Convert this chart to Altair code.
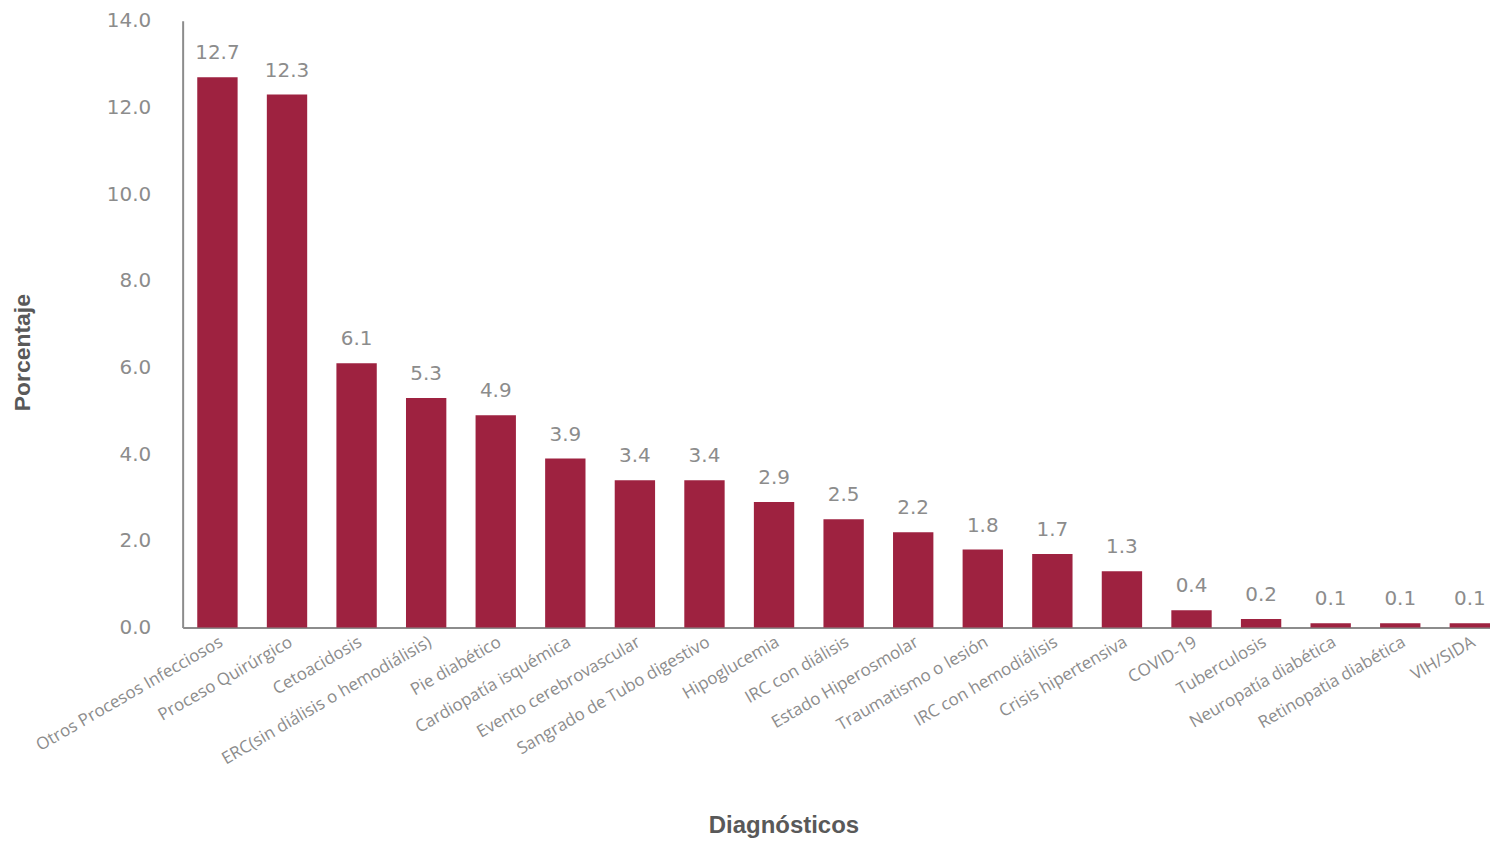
import altair as alt
import pandas as pd

categories = [
    "Otros Procesos Infecciosos", "Proceso Quirúrgico", "Cetoacidosis",
    "ERC(sin diálisis o hemodiálisis)", "Pie diabético", "Cardiopatía isquémica",
    "Evento cerebrovascular", "Sangrado de Tubo digestivo", "Hipoglucemia",
    "IRC con diálisis", "Estado Hiperosmolar", "Traumatismo o lesión",
    "IRC con hemodiálisis", "Crisis hipertensiva", "COVID-19", "Tuberculosis",
    "Neuropatía diabética", "Retinopatia diabética", "VIH/SIDA",
]
values = [12.7, 12.3, 6.1, 5.3, 4.9, 3.9, 3.4, 3.4, 2.9, 2.5, 2.2, 1.8, 1.7, 1.3,
          0.4, 0.2, 0.1, 0.1, 0.1]
y_ticks = [0, 2, 4, 6, 8, 10, 12, 14]

df = pd.DataFrame({"Diagnóstico": categories, "Porcentaje": values})

xscale = alt.Scale(paddingInner=0.42, paddingOuter=0.105, align=1)

x = alt.X(
    "Diagnóstico:N", sort=categories, scale=xscale,
    axis=alt.Axis(
        title="Diagnósticos", labelAngle=-30, labelAlign="right", labelBaseline="top",
        labelFont="Open Sans", labelFontSize=17, labelColor="#8c8c8c", labelPadding=6,
        ticks=False, domainColor="#8c8c8c", domainWidth=2, labelLimit=400,
        titleFont="Liberation Sans", titleFontSize=24, titleFontWeight="bold",
        titleColor="#595959", titleX=602, titleY=198, titleBaseline="middle",
        titleAnchor="start", titleAlign="center",
    ),
)
y = alt.Y(
    "Porcentaje:Q",
    scale=alt.Scale(domain=[0, 14], nice=False),
    axis=alt.Axis(
        title="Porcentaje", values=y_ticks, format=".1f", grid=False, ticks=False,
        labelFont="DejaVu Sans", labelFontSize=20, labelColor="#8c8c8c", labelPadding=32,
        domainColor="#8c8c8c", domainWidth=2,
        titleFont="Liberation Sans", titleFontSize=23, titleFontWeight="bold",
        titleColor="#595959", titleX=-148, titleY=332, titleAlign="center",
    ),
)

bars = alt.Chart(df).mark_bar(color="#9E2240").encode(x=x, y=y)
labels = alt.Chart(df).mark_text(
    dy=-14, font="DejaVu Sans", fontSize=20, color="#8c8c8c", baseline="bottom"
).encode(
    x=alt.X("Diagnóstico:N", sort=categories, scale=xscale),
    y="Porcentaje:Q",
    text=alt.Text("Porcentaje:Q", format=".1f"),
)

chart = (bars + labels).properties(
    width=1310, height=608,
    autosize=alt.AutoSizeParams(type="none"),
    padding={"left": 175, "top": 12, "right": 0, "bottom": 214},
).configure(background="white").configure_view(stroke=None, strokeWidth=0)

chart.save("out.html", embed_options={"renderer": "svg", "actions": False})
